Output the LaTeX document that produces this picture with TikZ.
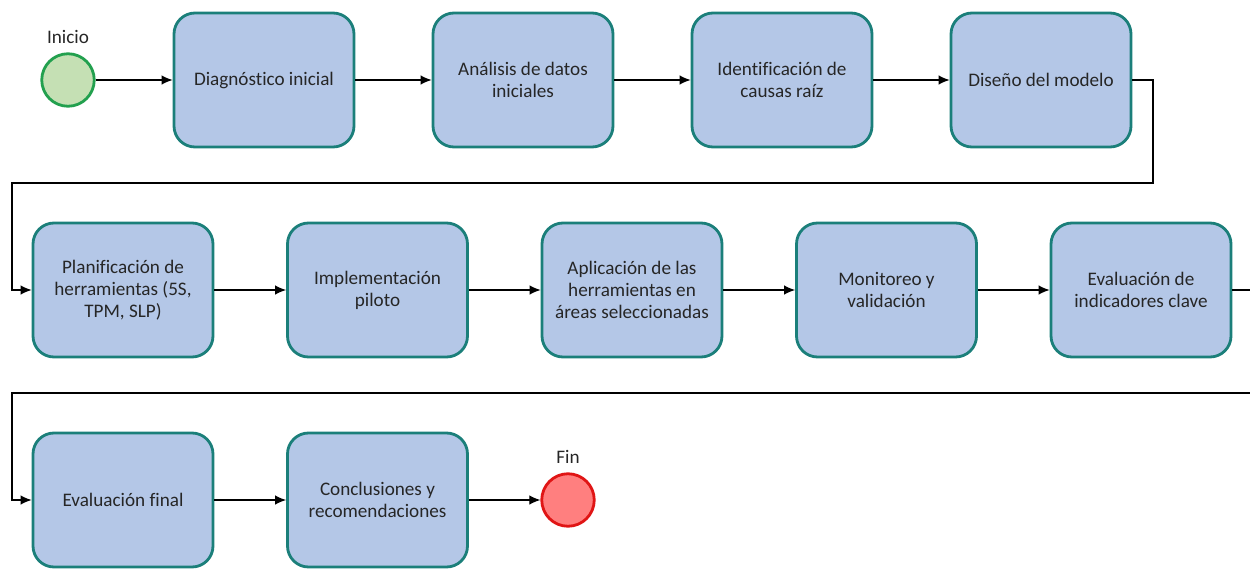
\documentclass[tikz,border=0pt]{standalone}
\usepackage{fontspec}
\setmainfont[Ligatures=CommonOff]{Carlito}
\usepackage{tikz}
\usetikzlibrary{shapes.geometric, arrows.meta, positioning}
\usepackage{xcolor}

\definecolor{boxfill}{HTML}{B4C7E7}
\definecolor{boxline}{HTML}{1B7F7A}
\definecolor{startfill}{HTML}{C5E0B4}
\definecolor{startline}{HTML}{22A04E}
\definecolor{endfill}{HTML}{FF7F7F}
\definecolor{endline}{HTML}{E01515}
\definecolor{txt}{HTML}{262626}

\tikzset{
    stepbox/.style={draw=boxline, line width=1.6pt, rounded corners=0.42cm, fill=boxfill,
        minimum width=3.6cm, minimum height=2.68cm, align=center, text=txt,
        font=\fontsize{10.9}{12.5}\selectfont},
    event/.style={circle, line width=1.6pt, minimum size=1.05cm, inner sep=0pt},
    flow/.style={-{Latex[length=2.2mm, width=1.9mm]}, line width=0.7pt}
}

\begin{document}
\begin{tikzpicture}[node distance=5.18cm, auto]
    \useasboundingbox (0,0) rectangle (25,-11.4);

    % primera fila
    \node[event, draw=startline, fill=startfill,
        label={[text=txt, font=\fontsize{10.9}{12.5}\selectfont, label distance=0.05cm]above:Inicio}] (inicio) at (1.36,-1.6) {};
    \node[stepbox] (diag) at (5.28,-1.6) {Diagnóstico inicial};
    \node[stepbox, right of=diag] (analisis) {Análisis de datos\\iniciales};
    \node[stepbox, right of=analisis] (causas) {Identificación de\\causas raíz};
    \node[stepbox, right of=causas] (diseno) {Diseño del modelo};

    % segunda fila
    \begin{scope}[node distance=5.09cm]
    \node[stepbox] (plan) at (2.46,-5.8) {Planificación de\\herramientas (5S,\\TPM, SLP)};
    \node[stepbox, right of=plan] (piloto) {Implementación\\piloto};
    \node[stepbox, right of=piloto] (aplic) {Aplicación de las\\herramientas en\\áreas seleccionadas};
    \node[stepbox, right of=aplic] (monit) {Monitoreo y\\validación};
    \node[stepbox, right of=monit] (indic) {Evaluación de\\indicadores clave};

    % tercera fila
    \node[stepbox] (final) at (2.46,-10) {Evaluación final};
    \node[stepbox, right of=final] (concl) {Conclusiones y\\recomendaciones};
    \end{scope}
    \node[event, draw=endline, fill=endfill,
        label={[text=txt, font=\fontsize{10.9}{12.5}\selectfont, label distance=0.05cm]above:Fin}] (fin) at (11.36,-10) {};

    % puntos de quiebre
    \coordinate (turnA) at (23.06,-3.66);
    \coordinate (turnB) at (0.24,-3.66);
    \coordinate (turnC) at (25.06,-7.86);
    \coordinate (turnD) at (0.24,-7.86);

    \draw[flow] (inicio) -- (diag);
    \draw[flow] (diag) -- (analisis);
    \draw[flow] (analisis) -- (causas);
    \draw[flow] (causas) -- (diseno);
    \draw[flow] (diseno.east) -| (turnA) -- (turnB) |- (plan.west);
    \draw[flow] (plan) -- (piloto);
    \draw[flow] (piloto) -- (aplic);
    \draw[flow] (aplic) -- (monit);
    \draw[flow] (monit) -- (indic);
    \draw[flow] (indic.east) -| (turnC) -- (turnD) |- (final.west);
    \draw[flow] (final) -- (concl);
    \draw[flow] (concl) -- (fin);
\end{tikzpicture}
\end{document}
